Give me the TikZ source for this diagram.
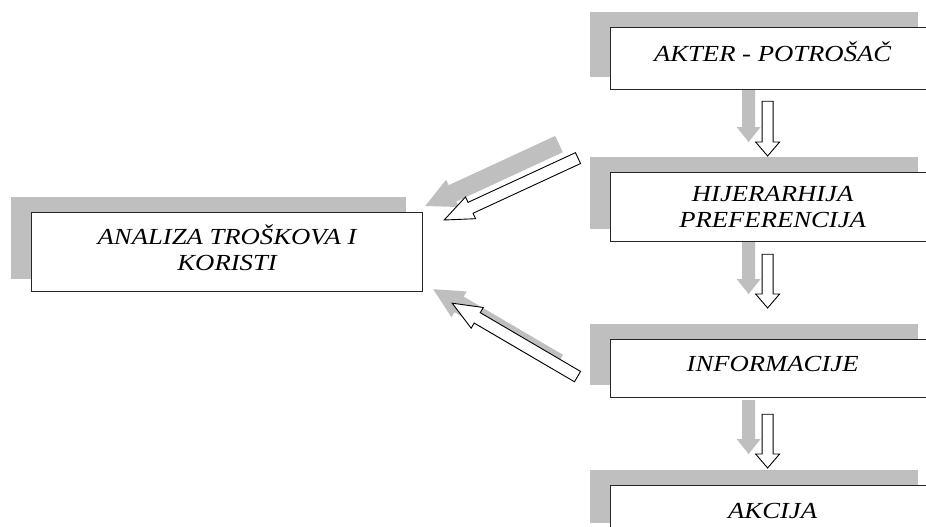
\documentclass[tikz,border=0pt]{standalone}
\usepackage{fontspec}
\setmainfont{Liberation Serif}
\usetikzlibrary{calc,backgrounds}
\definecolor{shadowgray}{gray}{0.75}
\newcommand\hs[1]{\scalebox{1.16}[1]{#1}}
\newcommand\liftup[2]{\raisebox{#1}[\height][\depth]{#2}}
\newcommand\mkarrow[6]{%
  \path let \p1=(#2), \p2=(#3) in \pgfextra{%
    \pgfmathsetmacro\tmpang{atan2(\y2-\y1,\x2-\x1)}%
    \pgfmathsetmacro\tmplen{veclen(\x2-\x1,\y2-\y1)}%
    \xdef\baang{\tmpang}\xdef\balen{\tmplen}\xdef\bax{\x1}\xdef\bay{\y1}};
  \draw[#1, shift={(\bax,\bay)}, rotate=\baang, x=1pt, y=1pt]
    (0,-#4) -- ({\balen-#6},-#4) -- ({\balen-#6},-#5) -- (\balen,0)
    -- ({\balen-#6},#5) -- ({\balen-#6},#4) -- (0,#4) -- cycle;
}
\tikzset{
  boxnode/.style={draw=black!85, line width=1.2pt, fill=white, inner sep=0pt,
    anchor=north west, align=center,
    font=\fontsize{23}{26}\selectfont\itshape},
  shadowbox/.style={fill=shadowgray},
  whitearrow/.style={draw=black, line width=0.9pt, fill=white, line join=miter},
  grayarrow/.style={fill=shadowgray, draw=none},
}
\begin{document}
\begin{tikzpicture}[x=1pt,y=-1pt]
\clip (0,0) rectangle (926,527);

\node[boxnode, minimum width=324, minimum height=62] (akter) at (610,27) {\liftup{7pt}{\hs{AKTER - POTROŠAČ}}};
\node[boxnode, minimum width=324, minimum height=69] (hij) at (610,172) {\hs{HIJERARHIJA}\\\hs{PREFERENCIJA}};
\node[boxnode, minimum width=324, minimum height=58] (info) at (610,339) {\liftup{5pt}{\hs{INFORMACIJE}}};
\node[boxnode, minimum width=324, minimum height=50] (akcija) at (610,485) {\hs{AKCIJA}};
\node[boxnode, minimum width=391, minimum height=79] (analiza) at (31,212) {\liftup{4pt}{\hs{ANALIZA TROŠKOVA I}}\\\liftup{4pt}{\hs{KORISTI}}};

% arrow end points
\coordinate (a1s) at ($(akter.south)+(-5,11)$);
\coordinate (a1e) at ($(hij.north)+(-5,-16)$);
\coordinate (a2s) at ($(hij.south)+(-5,12)$);
\coordinate (a2e) at ($(info.north)+(-5,-31)$);
\coordinate (a3s) at ($(info.south)+(-5,16)$);
\coordinate (a3e) at ($(akcija.north)+(-5,-17)$);
\coordinate (d1s) at ($(hij.west)+(-32,-49)$);
\coordinate (d1e) at ($(analiza.north east)+(21,8)$);
\coordinate (d2s) at ($(info.west)+(-32.5,8)$);
\coordinate (d2e) at ($(analiza.south east)+(29,11)$);
% shadow copies
\foreach \c in {a1s,a1e,a2s,a2e,a3s,a3e,d1s,d1e,d2s,d2e}{
  \coordinate (g\c) at ($(\c)+(-19,-14)$);
}

\begin{pgfonlayer}{background}
\fill[white] (0,0) rectangle (926,527);
\foreach \b in {akter,hij,info,akcija,analiza}{
  \fill[shadowbox] ($(\b.north west)+(-20,-15)$) rectangle ($(\b.south east)+(-17,-13)$);
}
\mkarrow{grayarrow}{ga1s}{ga1e}{6.5}{12}{15}
\mkarrow{grayarrow}{ga2s}{ga2e}{6.5}{12}{15}
\mkarrow{grayarrow}{ga3s}{ga3e}{6.5}{12}{15}
\mkarrow{grayarrow}{gd1s}{gd1e}{9}{15}{30}
\mkarrow{grayarrow}{gd2s}{gd2e}{9}{15}{30}
\end{pgfonlayer}

\mkarrow{whitearrow}{a1s}{a1e}{5.5}{12}{14}
\mkarrow{whitearrow}{a2s}{a2e}{5.5}{12}{14}
\mkarrow{whitearrow}{a3s}{a3e}{5.5}{12}{14}
\mkarrow{whitearrow}{d1s}{d1e}{6}{12}{29}
\mkarrow{whitearrow}{d2s}{d2e}{6}{12}{29}
\end{tikzpicture}
\end{document}
